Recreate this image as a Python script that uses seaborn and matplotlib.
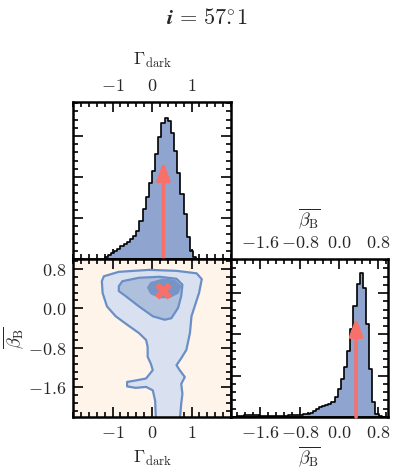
import numpy as np
import pandas as pd
import matplotlib
matplotlib.use("Agg")
import matplotlib.pyplot as plt
from matplotlib.ticker import MultipleLocator, AutoMinorLocator, FuncFormatter, NullFormatter
import seaborn as sns

# ---------------- data ----------------
# Gamma_dark marginal histogram (bin width 0.08), heights in arbitrary units
gamma_centers = np.round(np.arange(-1.16, 1.09, 0.08), 3)
gamma_heights = [2, 4, 6, 8, 10, 13, 15, 17, 20, 23, 28, 38, 50, 62, 76, 88,
                 105, 122, 136, 141, 138, 126, 108, 86, 65, 45, 22, 8, 2]

# beta_B marginal histogram (bin width 0.064)
beta_centers = np.round(np.arange(-2.168, 0.97, 0.064), 3)
beta_heights = [0, 0, 0.5, 1, 1.5, 1.5, 2, 2, 1.5, 1, 1, 1, 1, 1, 1, 1, 1, 1,
                1.5, 1.5, 1.5, 2, 2, 2.5, 3, 4, 6, 8, 10, 11, 12, 13, 15, 20,
                28, 38, 50, 66, 87, 110, 132, 143, 128, 92, 48, 15, 3, 0.5, 0, 0]

# true values (red markers)
gamma_true = 0.29
beta_true = 0.35
arrow_frac_g = 0.62
arrow_frac_b = 0.63

# credible contours (outer, middle, inner) as (Gamma, beta) outlines
outer_g = [-1.22, -0.84, -0.07, 0.62, 1.13, 1.26, 1.19, 1.08, 1.00, 0.96, 0.87, 0.74,
           0.62, 0.70, 0.83, 0.74, 0.77, 0.74, 0.70, 0.10, 0.08, 0.02, -0.15, -0.41,
           -0.63, -0.63, -0.41, -0.15, 0.02, -0.03, -0.11, -0.11, -0.15, -0.33, -0.63,
           -0.92, -1.14, -1.25, -1.27]
outer_b = [0.65, 0.74, 0.78, 0.76, 0.71, 0.59, 0.31, 0.04, -0.16, -0.50, -0.84, -1.01,
           -1.15, -1.25, -1.39, -1.53, -1.73, -1.93, -2.30, -2.30, -1.87, -1.66, -1.59, -1.61,
           -1.58, -1.49, -1.46, -1.42, -1.25, -1.12, -0.98, -0.78, -0.64, -0.50, -0.33,
           -0.16, 0.04, 0.31, 0.55]
mid_g = [-0.84, -0.75, -0.33, 0.19, 0.62, 0.77, 0.74, 0.66, 0.49, 0.32, 0.02, -0.33, -0.67, -0.84]
mid_b = [0.45, 0.55, 0.62, 0.64, 0.60, 0.48, 0.25, 0.01, -0.20, -0.23, -0.16, 0.04, 0.25, 0.35]
inner_g = [-0.11, -0.03, 0.27, 0.57, 0.73, 0.66, 0.44, 0.19, -0.03]
inner_b = [0.42, 0.52, 0.59, 0.57, 0.45, 0.31, 0.22, 0.22, 0.30]

gamma_lim = (-2.0, 2.0)
beta_lim = (-2.2, 1.0)
gamma_ticks = [-1, 0, 1]
beta_ticks = [-1.6, -0.8, 0.0, 0.8]

# ---------------- style ----------------
sns.set_style("ticks")
plt.rcParams["mathtext.fontset"] = "cm"
plt.rcParams["font.family"] = ["DejaVu Serif"]

FS = 13
HIST_FILL = "#8fa5d0"
RED = "#f7716a"
BG = "#fef4e9"
C_OUT, C_MID, C_IN, C_EDGE = "#d9e1f0", "#afc0dd", "#7694c6", "#6a8fc6"

W, H = 397, 475
fig = plt.figure(figsize=(W / 100, H / 100), dpi=100)

def fax(x0, y0, x1, y1):
    return fig.add_axes([x0 / W, 1 - y1 / H, (x1 - x0) / W, (y1 - y0) / H])

ax_g = fax(73, 102, 231, 259)
ax_2d = fax(73, 259, 231, 417)
ax_b = fax(231, 259, 388, 417)

def fmt0(v, p):
    v = 0 if abs(v) < 1e-9 else v
    return f"${v:.0f}$"

def fmt1(v, p):
    v = 0 if abs(v) < 1e-9 else v
    return f"${v:.1f}$"

def style(ax):
    ax.tick_params(which="both", direction="in", top=True, bottom=True, left=True, right=True,
                   labelsize=FS, width=1.2, color="black", pad=5)
    ax.tick_params(which="major", length=7)
    ax.tick_params(which="minor", length=3.5)
    for s in ax.spines.values():
        s.set_linewidth(1.8)
        s.set_color("black")

gamma_edges = [float(v) for v in np.round(np.append(gamma_centers - 0.04, gamma_centers[-1] + 0.04), 3)]
beta_edges = [float(v) for v in np.round(np.append(beta_centers - 0.032, beta_centers[-1] + 0.032), 3)]
df_g = pd.DataFrame({"x": gamma_centers, "w": gamma_heights})
df_b = pd.DataFrame({"x": beta_centers, "w": beta_heights})
df_true = pd.DataFrame({"g": [gamma_true], "b": [beta_true]})

arrow_kw = dict(arrowstyle="-|>,head_length=0.75,head_width=0.28", color=RED,
                lw=2.6, shrinkA=0, shrinkB=0, mutation_scale=14)

# ---- top-left: Gamma hist ----
sns.histplot(data=df_g, x="x", weights="w", bins=gamma_edges, element="step",
             fill=True, color=HIST_FILL, alpha=1, edgecolor="black", linewidth=1.2, ax=ax_g)
ax_g.set_xlim(*gamma_lim)
ax_g.set_ylim(0, 157)
ax_g.annotate("", xy=(gamma_true, 157 * arrow_frac_g), xytext=(gamma_true, 0), arrowprops=arrow_kw)
style(ax_g)
ax_g.set_xticks(gamma_ticks)
ax_g.xaxis.set_minor_locator(MultipleLocator(0.2))
ax_g.xaxis.set_major_formatter(FuncFormatter(fmt0))
ax_g.yaxis.set_major_locator(MultipleLocator(41))
ax_g.yaxis.set_minor_locator(AutoMinorLocator(5))
ax_g.yaxis.set_major_formatter(NullFormatter())
ax_g.tick_params(labeltop=True, labelbottom=False, labelleft=False)
ax_g.xaxis.set_label_position("top")
ax_g.set_xlabel(r"$\Gamma_{\rm dark}$", fontsize=FS, labelpad=9)
ax_g.set_ylabel("")

# ---- bottom-left: 2D ----
ax_2d.set_facecolor(BG)
ax_2d.fill(outer_g, outer_b, facecolor=C_OUT, edgecolor=C_EDGE, lw=1.6, joinstyle="round")
ax_2d.fill(mid_g, mid_b, facecolor=C_MID, edgecolor=C_EDGE, lw=1.6, joinstyle="round")
ax_2d.fill(inner_g, inner_b, facecolor=C_IN, edgecolor=C_IN, lw=1.0, joinstyle="round")
sns.scatterplot(data=df_true, x="g", y="b", marker="X", s=150, color=RED,
                edgecolor="none", ax=ax_2d, zorder=5)
ax_2d.set_xlim(*gamma_lim)
ax_2d.set_ylim(*beta_lim)
style(ax_2d)
ax_2d.set_xticks(gamma_ticks)
ax_2d.xaxis.set_minor_locator(MultipleLocator(0.2))
ax_2d.xaxis.set_major_formatter(FuncFormatter(fmt0))
ax_2d.set_yticks(beta_ticks)
ax_2d.yaxis.set_minor_locator(MultipleLocator(0.16))
ax_2d.yaxis.set_major_formatter(FuncFormatter(fmt1))
ax_2d.set_xlabel(r"$\Gamma_{\rm dark}$", fontsize=FS, labelpad=5)
ax_2d.set_ylabel(r"$\overline{\beta_{\rm B}}$", fontsize=FS, labelpad=1)

# ---- bottom-right: beta hist ----
sns.histplot(data=df_b, x="x", weights="w", bins=beta_edges, element="step",
             fill=True, color=HIST_FILL, alpha=1, edgecolor="black", linewidth=1.2, ax=ax_b)
ax_b.set_xlim(*beta_lim)
ax_b.set_ylim(0, 157)
ax_b.annotate("", xy=(beta_true, 157 * arrow_frac_b), xytext=(beta_true, 0), arrowprops=arrow_kw)
style(ax_b)
ax_b.set_xticks(beta_ticks)
ax_b.xaxis.set_minor_locator(MultipleLocator(0.16))
ax_b.xaxis.set_major_formatter(FuncFormatter(fmt1))
ax_b.yaxis.set_major_locator(MultipleLocator(41))
ax_b.yaxis.set_minor_locator(AutoMinorLocator(5))
ax_b.yaxis.set_major_formatter(NullFormatter())
ax_b.tick_params(labeltop=True, labelbottom=True, labelleft=False)
ax_b.set_xlabel(r"$\overline{\beta_{\rm B}}$", fontsize=FS, labelpad=2)
ax_b.set_ylabel("")
ax_b.text(0.5, 1.0 + 28 / 158, r"$\overline{\beta_{\rm B}}$", transform=ax_b.transAxes,
          fontsize=FS, ha="center", va="bottom")

fig.text(207 / W, 1 - 18 / H, r"$\boldsymbol{i}\,\mathbf{=\,57\overset{\circ}{.}1}$", fontsize=16,
         ha="center", va="center")

fig.savefig("out.png", dpi=100)
